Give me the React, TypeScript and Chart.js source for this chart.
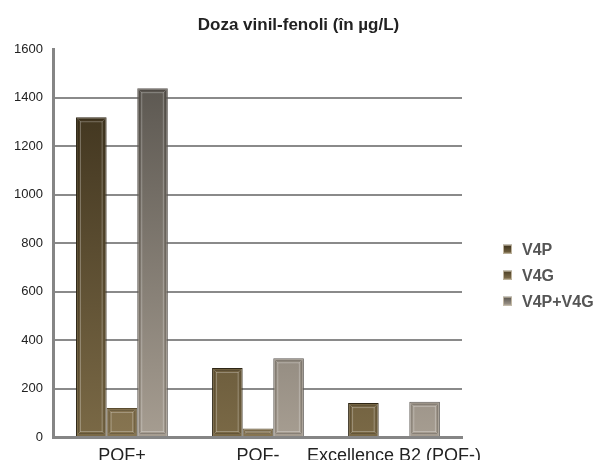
import React, { useEffect, useRef } from "react";
import { Chart, registerables } from "chart.js";

Chart.register(...registerables);

const categories = ["POF+", "POF-", "Excellence B2 (POF-)"];
const seriesNames = ["V4P", "V4G", "V4P+V4G"];
const v4p = [1320, 285, 140];
const v4g = [120, 35, 0];
const v4pv4g = [1440, 325, 145];
const yTicks = [0, 200, 400, 600, 800, 1000, 1200, 1400, 1600];
const titleText = "Doza vinil-fenoli (în µg/L)";

const palettes = [
  { top: "#382d19", bottom: "#7a6946", border: "#2e2616", swatch: "#5a4b2f" },
  { top: "#4a3d24", bottom: "#877551", border: "#5a4c30", swatch: "#6e5e3c" },
  { top: "#55514b", bottom: "#a69d91", border: "#5e5a55", swatch: "#8a847c" },
];

const FONT = "'Liberation Sans', Arial, sans-serif";
const TITLE_FONT = { family: FONT, size: 17, weight: "bold" as const };

function gradientFor(idx: number) {
  return (ctx: any) => {
    const chart = ctx.chart;
    const ca = chart.chartArea;
    const p = palettes[idx];
    if (!ca) return p.swatch;
    const g = chart.ctx.createLinearGradient(0, ca.top, 0, ca.bottom);
    g.addColorStop(0, p.top);
    g.addColorStop(1, p.bottom);
    return g;
  };
}

const bevelPlugin = {
  id: "bevel",
  afterDatasetsDraw(chart: any) {
    const ctx = chart.ctx;
    chart.data.datasets.forEach((ds: any, di: number) => {
      const meta = chart.getDatasetMeta(di);
      meta.data.forEach((bar: any) => {
        const { x, y, base, width } = bar.getProps(["x", "y", "base", "width"], true);
        const h = base - y;
        if (h < 2) return;
        const l = x - width / 2;
        const r = x + width / 2;
        ctx.save();
        const inset = Math.min(4, h / 3);
        ctx.strokeStyle = "rgba(255,255,255,0.28)";
        ctx.lineWidth = 1;
        ctx.strokeRect(l + inset + 0.5, y + inset + 0.5, width - 2 * inset - 1, h - 2 * inset - 1);
        ctx.strokeStyle = "rgba(0,0,0,0.18)";
        ctx.strokeRect(l + 2.5, y + 2.5, width - 5, h - 5);
        ctx.strokeStyle = "rgba(255,255,255,0.18)";
        ctx.beginPath();
        ctx.moveTo(l + 2, y + 2);
        ctx.lineTo(l + inset + 1, y + inset + 1);
        ctx.moveTo(r - 2, y + 2);
        ctx.lineTo(r - inset - 1, y + inset + 1);
        ctx.moveTo(l + 2, base - 2);
        ctx.lineTo(l + inset + 1, base - inset - 1);
        ctx.moveTo(r - 2, base - 2);
        ctx.lineTo(r - inset - 1, base - inset - 1);
        ctx.stroke();
        ctx.restore();
      });
    });
  },
};

const overlayPlugin = {
  id: "overlay",
  afterDraw(chart: any) {
    const ctx = chart.ctx;
    const ca = chart.chartArea;
    ctx.save();
    const tb = chart.titleBlock;
    ctx.font = `bold ${TITLE_FONT.size}px ${FONT}`;
    ctx.fillStyle = "#222222";
    ctx.textAlign = "center";
    ctx.textBaseline = "middle";
    if (tb) ctx.fillText(titleText, chart.width / 2, (tb.top + tb.bottom) / 2 + 1);

    const x0 = ca.right + 41;
    const mid = (ca.top + ca.bottom) / 2 + 32;
    ctx.font = `bold 16px ${FONT}`;
    ctx.textAlign = "left";
    seriesNames.forEach((name, i) => {
      const cy = mid + (i - 1) * 26;
      const p = palettes[i];
      const g = ctx.createLinearGradient(0, cy - 4.5, 0, cy + 4.5);
      g.addColorStop(0, p.top);
      g.addColorStop(1, p.bottom);
      ctx.fillStyle = g;
      ctx.fillRect(x0, cy - 4.5, 9, 9);
      ctx.strokeStyle = "rgba(200,190,170,0.9)";
      ctx.lineWidth = 1;
      ctx.strokeRect(x0 + 0.5, cy - 4, 8, 8);
      ctx.fillStyle = "#555555";
      ctx.fillText(name, x0 + 19, cy + 1);
    });
    ctx.restore();
  },
};

export default function App() {
  const ref = useRef<HTMLCanvasElement | null>(null);

  useEffect(() => {
    if (!ref.current) return;
    const seriesData = [v4p, v4g, v4pv4g];
    const chart = new Chart(ref.current, {
      type: "bar",
      data: {
        labels: categories,
        datasets: seriesNames.map((name, i) => ({
          label: name,
          data: seriesData[i],
          backgroundColor: gradientFor(i),
          borderColor: palettes[i].border,
          borderWidth: 1,
          categoryPercentage: 0.675,
          barPercentage: 1.0,
        })),
      },
      options: {
        responsive: false,
        animation: false,
        layout: { padding: { left: 3, right: 135, top: 0, bottom: -15 } },
        plugins: {
          legend: { display: false },
          tooltip: { enabled: false },
          title: {
            display: true,
            text: titleText,
            color: "rgba(0,0,0,0)",
            font: TITLE_FONT,
            padding: { top: 13, bottom: 16 },
          },
        },
        scales: {
          x: {
            grid: { display: false, drawTicks: false },
            border: { display: true, color: "#858585", width: 3 },
            ticks: {
              color: "#222222",
              font: { family: FONT, size: 18, lineHeight: 1.0 },
              padding: 10,
              maxRotation: 0,
              autoSkip: false,
            },
          },
          y: {
            min: yTicks[0],
            max: yTicks[yTicks.length - 1],
            afterBuildTicks: (axis: any) => {
              axis.ticks = yTicks.map((v) => ({ value: v }));
            },
            grid: {
              drawTicks: false,
              lineWidth: 2,
              color: (c: any) =>
                c.tick && c.tick.value === yTicks[yTicks.length - 1] ? "rgba(0,0,0,0)" : "#8a8a8a",
            },
            border: { display: true, color: "#858585", width: 3 },
            ticks: {
              color: "#222222",
              font: { family: FONT, size: 13 },
              padding: 11,
              callback: (v: any) => String(v),
            },
          },
        },
      },
      plugins: [bevelPlugin, overlayPlugin],
    });
    return () => chart.destroy();
  }, []);

  return (
    <div style={{ position: "absolute", left: 0, top: 0, width: 597, height: 460, background: "#ffffff" }}>
      <canvas ref={ref} width={597} height={460} />
    </div>
  );
}
